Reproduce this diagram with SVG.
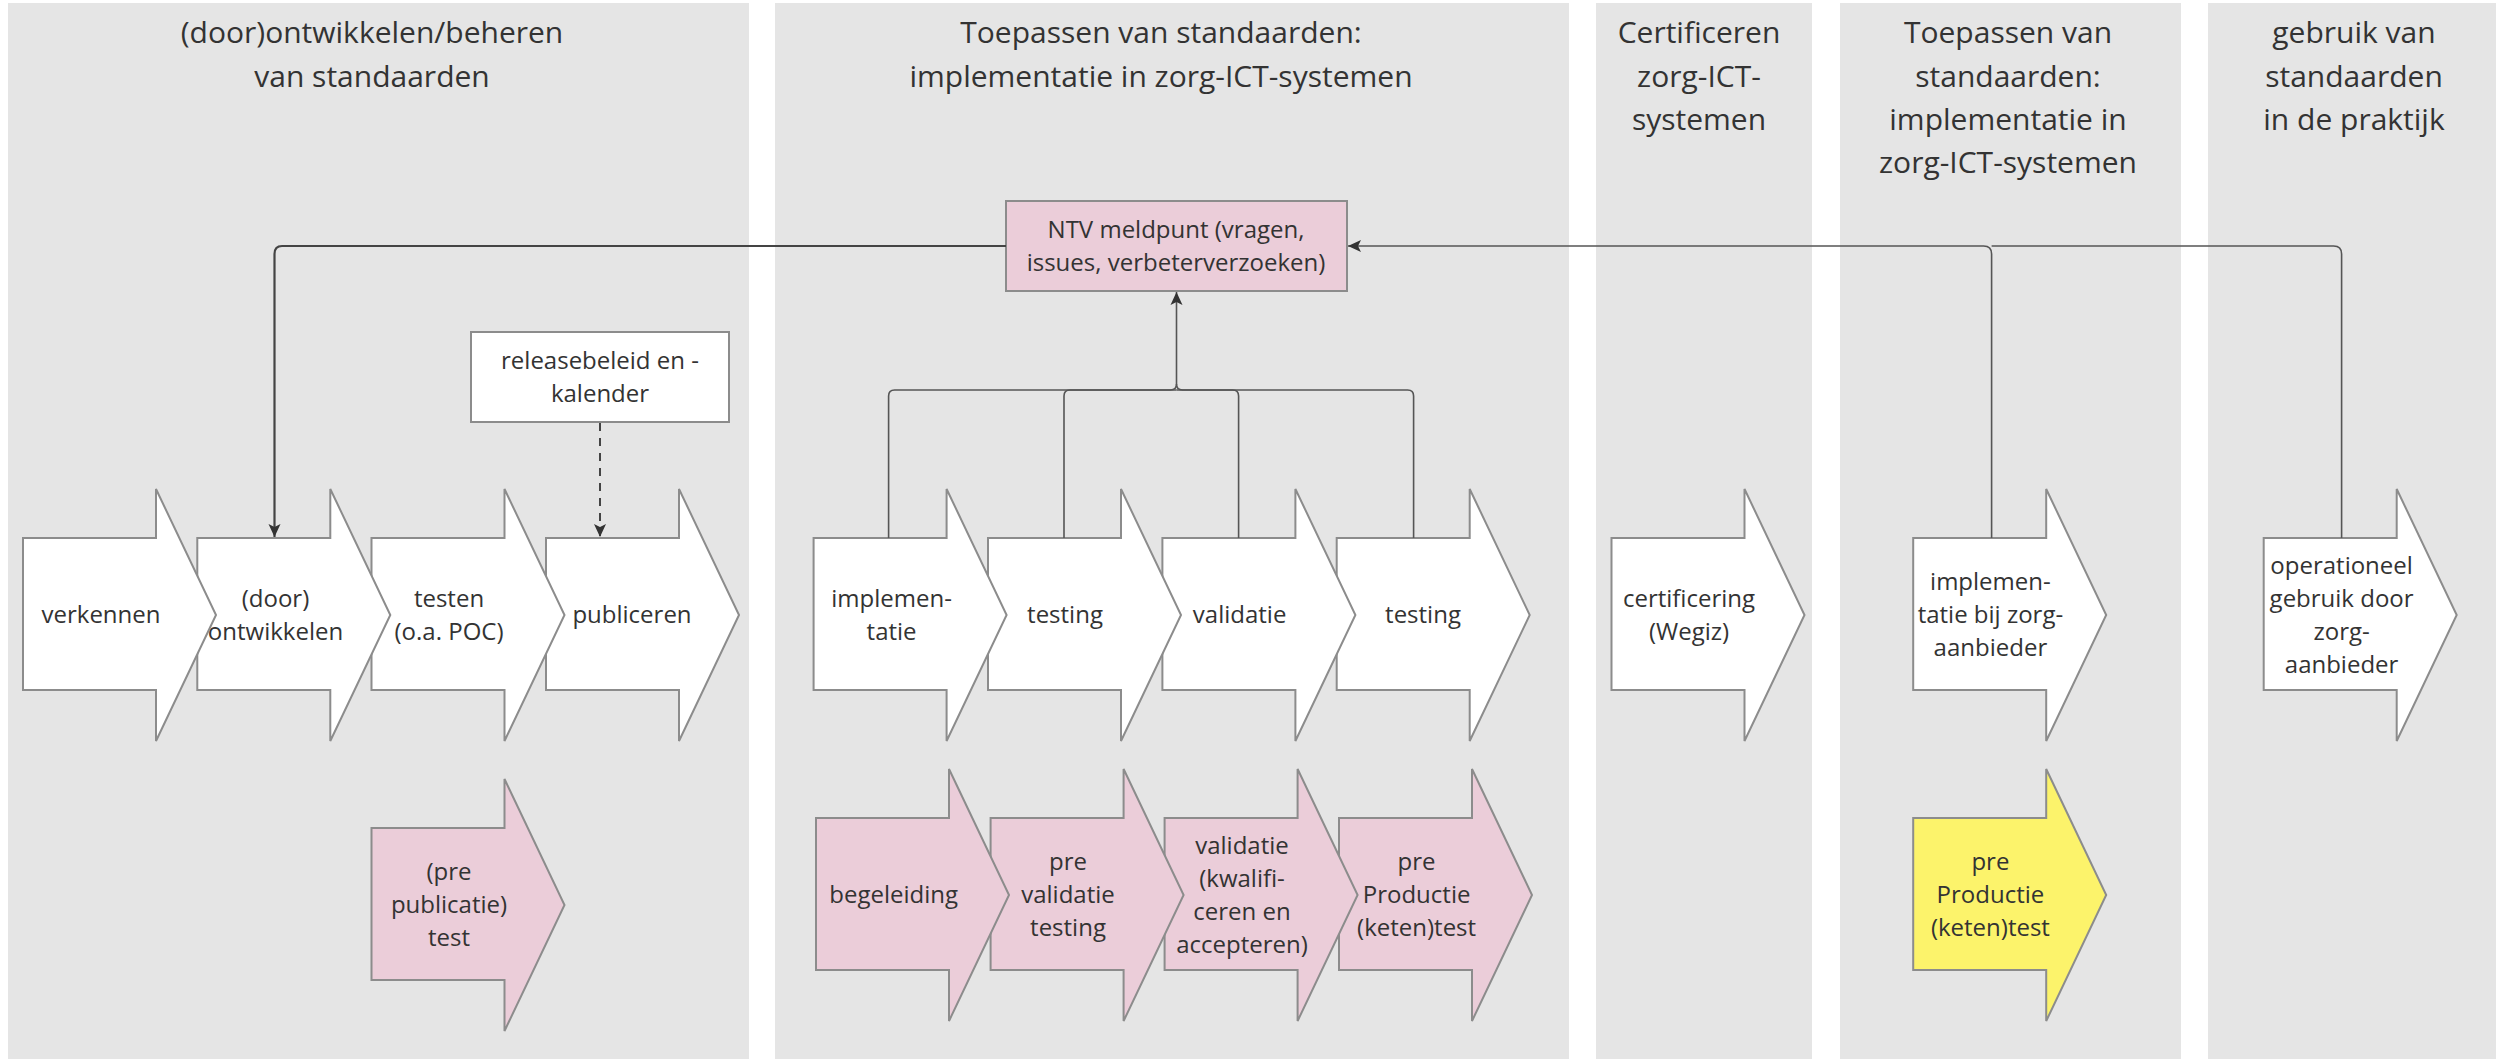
<svg xmlns="http://www.w3.org/2000/svg" width="2496" height="1059" viewBox="0 0 2496 1059">
<style>
.lane{fill:#e5e5e5}
.title{font-family:"Open Sans","Liberation Sans",sans-serif;font-size:30px;fill:#333;text-anchor:middle}
.lbl{font-family:"Open Sans","Liberation Sans",sans-serif;font-size:24px;fill:#333;text-anchor:middle}
.w{fill:#ffffff;stroke:#8c8c8c;stroke-width:2}
.p{fill:#ebcdd9;stroke:#8c8c8c;stroke-width:2}
.y{fill:#fcf36b;stroke:#8c8c8c;stroke-width:2}
.con{fill:none;stroke:#444;stroke-width:2.2}
.br{fill:none;stroke:#555;stroke-width:1.6}
.dash{fill:none;stroke:#444;stroke-width:2;stroke-dasharray:8 7}
</style>
<defs>
<path id="chev" d="M0,49 H133 V0 L193,126 L133,252 V201 H0 Z"/>
<marker id="ah" markerUnits="userSpaceOnUse" markerWidth="14" markerHeight="14" refX="13" refY="7" orient="auto">
<path d="M0,1 L13,7 L0,13 L3,7 Z" fill="#333"/>
</marker>
</defs>

<g id="lanes">
<rect class="lane" x="8" y="3" width="741" height="1056"/>
<rect class="lane" x="775" y="3" width="794" height="1056"/>
<rect class="lane" x="1596" y="3" width="216" height="1056"/>
<rect class="lane" x="1840" y="3" width="341" height="1056"/>
<rect class="lane" x="2208" y="3" width="288" height="1056"/>
<text class="title" x="372" y="43">(door)ontwikkelen/beheren</text>
<text class="title" x="372" y="87">van standaarden</text>
<text class="title" x="1161" y="43">Toepassen van standaarden:</text>
<text class="title" x="1161" y="87">implementatie in zorg-ICT-systemen</text>
<text class="title" x="1699" y="43">Certificeren</text>
<text class="title" x="1699" y="87">zorg-ICT-</text>
<text class="title" x="1699" y="130">systemen</text>
<text class="title" x="2008" y="43">Toepassen van</text>
<text class="title" x="2008" y="87">standaarden:</text>
<text class="title" x="2008" y="130">implementatie in</text>
<text class="title" x="2008" y="173">zorg-ICT-systemen</text>
<text class="title" x="2354" y="43">gebruik van</text>
<text class="title" x="2354" y="87">standaarden</text>
<text class="title" x="2354" y="130">in de praktijk</text>
</g>

<g id="n-ntv">
<rect class="p" x="1006" y="201" width="341" height="90"/>
<text class="lbl" x="1176" y="238">NTV meldpunt (vragen,</text>
<text class="lbl" x="1176" y="271">issues, verbeterverzoeken)</text>
</g>
<g id="n-release">
<rect class="w" x="471" y="332" width="258" height="90"/>
<text class="lbl" x="600" y="369">releasebeleid en -</text>
<text class="lbl" x="600" y="402">kalender</text>
</g>

<g id="n-publiceren">
<use href="#chev" class="w" transform="translate(546,489)"/>
<text class="lbl" x="632" y="623">publiceren</text>
</g>
<g id="n-testen">
<use href="#chev" class="w" transform="translate(371.5,489)"/>
<text class="lbl" x="449" y="607">testen</text>
<text class="lbl" x="449" y="640">(o.a. POC)</text>
</g>
<g id="n-ontwikkelen">
<use href="#chev" class="w" transform="translate(197.3,489)"/>
<text class="lbl" x="275.5" y="607">(door)</text>
<text class="lbl" x="275.5" y="640">ontwikkelen</text>
</g>
<g id="n-verkennen">
<use href="#chev" class="w" transform="translate(23,489)"/>
<text class="lbl" x="101" y="623">verkennen</text>
</g>
<g id="n-prepublicatie">
<use href="#chev" class="p" transform="translate(371.5,779)"/>
<text class="lbl" x="449" y="880">(pre</text>
<text class="lbl" x="449" y="913">publicatie)</text>
<text class="lbl" x="449" y="946">test</text>
</g>

<g id="n-testing2">
<use href="#chev" class="w" transform="translate(1336.7,489)"/>
<text class="lbl" x="1423" y="623">testing</text>
</g>
<g id="n-validatie">
<use href="#chev" class="w" transform="translate(1162.4,489)"/>
<text class="lbl" x="1239.6" y="623">validatie</text>
</g>
<g id="n-testing1">
<use href="#chev" class="w" transform="translate(988,489)"/>
<text class="lbl" x="1065" y="623">testing</text>
</g>
<g id="n-implementatie">
<use href="#chev" class="w" transform="translate(813.6,489)"/>
<text class="lbl" x="891.6" y="607">implemen-</text>
<text class="lbl" x="891.6" y="640">tatie</text>
</g>

<g id="n-preproductie">
<use href="#chev" class="p" transform="translate(1339,769)"/>
<text class="lbl" x="1416.6" y="870">pre</text>
<text class="lbl" x="1416.6" y="903">Productie</text>
<text class="lbl" x="1416.6" y="936">(keten)test</text>
</g>
<g id="n-validatiekwal">
<use href="#chev" class="p" transform="translate(1164.6,769)"/>
<text class="lbl" x="1242" y="854">validatie</text>
<text class="lbl" x="1242" y="887">(kwalifi-</text>
<text class="lbl" x="1242" y="920">ceren en</text>
<text class="lbl" x="1242" y="953">accepteren)</text>
</g>
<g id="n-prevalidatie">
<use href="#chev" class="p" transform="translate(990.6,769)"/>
<text class="lbl" x="1068" y="870">pre</text>
<text class="lbl" x="1068" y="903">validatie</text>
<text class="lbl" x="1068" y="936">testing</text>
</g>
<g id="n-begeleiding">
<use href="#chev" class="p" transform="translate(816,769)"/>
<text class="lbl" x="893.7" y="903">begeleiding</text>
</g>

<g id="n-certificering">
<use href="#chev" class="w" transform="translate(1611.5,489)"/>
<text class="lbl" x="1689" y="607">certificering</text>
<text class="lbl" x="1689" y="640">(Wegiz)</text>
</g>
<g id="n-implzorg">
<use href="#chev" class="w" transform="translate(1913.2,489)"/>
<text class="lbl" x="1990.4" y="590">implemen-</text>
<text class="lbl" x="1990.4" y="623">tatie bij zorg-</text>
<text class="lbl" x="1990.4" y="656">aanbieder</text>
</g>
<g id="n-preproductie-zorg">
<use href="#chev" class="y" transform="translate(1913.2,769)"/>
<text class="lbl" x="1990.4" y="870">pre</text>
<text class="lbl" x="1990.4" y="903">Productie</text>
<text class="lbl" x="1990.4" y="936">(keten)test</text>
</g>
<g id="n-operationeel">
<use href="#chev" class="w" transform="translate(2263.7,489)"/>
<text class="lbl" x="2341.6" y="574">operationeel</text>
<text class="lbl" x="2341.6" y="607">gebruik door</text>
<text class="lbl" x="2341.6" y="640">zorg-</text>
<text class="lbl" x="2341.6" y="673">aanbieder</text>
</g>

<g id="connectors">
<path class="con" d="M1006,246 H282 Q274.5,246 274.5,254 V537" marker-end="url(#ah)"/>
<path class="br" d="M1991.6,538 V254 Q1991.6,246 1983.6,246 H1348" marker-end="url(#ah)"/>
<path class="br" d="M2341.6,538 V254 Q2341.6,246 2333.6,246 H1991.6"/>
<path class="br" d="M1176.5,384 V292" marker-end="url(#ah)"/>
<path class="br" d="M888.6,538 V396 Q888.6,390 894.6,390 H1170.5 Q1176.5,390 1176.5,384"/>
<path class="br" d="M1064,538 V396 Q1064,390 1070,390 H1176.5"/>
<path class="br" d="M1238.6,538 V396 Q1238.6,390 1232.6,390 H1176.5"/>
<path class="br" d="M1413.6,538 V396 Q1413.6,390 1407.6,390 H1182.5 Q1176.5,390 1176.5,384"/>
<path class="dash" d="M600,423 V537" marker-end="url(#ah)"/>
</g>
</svg>
